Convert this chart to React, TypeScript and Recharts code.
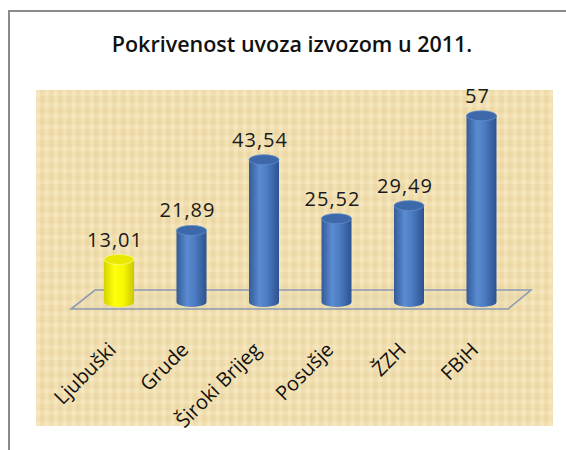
import React from "react"
import { BarChart, Bar, XAxis, YAxis, Cell, LabelList, usePlotArea } from "recharts"

const categories = ["Ljubuški", "Grude", "Široki Brijeg", "Posušje", "ŽZH", "FBiH"]
const coverage = [13.01, 21.89, 43.54, 25.52, 29.49, 57]
const valueLabels = ["13,01", "21,89", "43,54", "25,52", "29,49", "57"]
const highlighted = ["Ljubuški"]

const data = categories.map((name, i) => ({ name, value: coverage[i], label: valueLabels[i] }))

const W = 566
const H = 450

// floor under the cylinders, follows the plot area
function Floor() {
  const area = usePlotArea()
  if (!area) return null
  const { x, y, width, height } = area
  const b = y + height
  const pts = [
    [x - 12, b + 7],
    [x + width - 10, b + 7],
    [x + width + 13, b - 12],
    [x + 12, b - 12],
  ]
  return (
    <polygon
      points={pts.map((p) => p.join(",")).join(" ")}
      fill="rgba(230,215,175,0.35)"
      stroke="#8d9bb3"
      strokeWidth={1.6}
    />
  )
}

const Cylinder = (props: any) => {
  const { x, y, width, height, fill } = props
  const yellow = fill === "#ffff00"
  const rx = width / 2
  const ry = 5
  const body = `M${x},${y} L${x},${y + height} A${rx},${ry} 0 0 0 ${x + width},${y + height} L${x + width},${y} Z`
  return (
    <g>
      <path d={body} fill={yellow ? "url(#cylY)" : "url(#cylB)"} />
      <ellipse
        cx={x + rx}
        cy={y}
        rx={rx}
        ry={ry}
        fill={yellow ? "#e8e800" : "#3d69ab"}
        stroke={yellow ? "#f7f77a" : "#5f8bcb"}
        strokeWidth={0.8}
      />
    </g>
  )
}

const ValueLabel = (props: any) => {
  const { x, y, width, value } = props
  return (
    <text
      x={x + width / 2 - 4}
      y={y - 13}
      textAnchor="middle"
      fontFamily="'Open Sans', sans-serif"
      fontSize={20}
      letterSpacing={1}
      fill="#1a1a1a"
    >
      {value}
    </text>
  )
}

const CategoryTick = (props: any) => {
  const { x, y, payload } = props
  const ax = x - 2
  const ay = y + 41
  return (
    <text
      x={ax}
      y={ay}
      transform={`rotate(-45 ${ax} ${ay})`}
      textAnchor="end"
      fontFamily="'Open Sans', sans-serif"
      fontSize={20}
      fill="#111"
    >
      {payload.value}
    </text>
  )
}

export default function App() {
  return (
    <div style={{ position: "absolute", left: 0, top: 0, width: W, height: H, background: "#fff", overflow: "hidden" }}>
      {/* frame */}
      <div
        style={{
          position: "absolute",
          left: 8,
          top: 10,
          width: 620,
          height: 500,
          border: "2px solid #8a8a8a",
        }}
      />
      {/* parchment plot background */}
      <div
        style={{
          position: "absolute",
          left: 36,
          top: 90,
          width: 517,
          height: 336,
          backgroundColor: "#efdcaa",
          backgroundImage:
            "repeating-linear-gradient(90deg, rgba(255,246,220,0.25) 0px, rgba(255,246,220,0.25) 3px, rgba(205,175,115,0.08) 5px, rgba(255,246,220,0) 9px), repeating-linear-gradient(0deg, rgba(255,246,220,0.2) 0px, rgba(255,246,220,0.2) 3px, rgba(205,175,115,0.07) 6px, rgba(255,246,220,0) 11px)",
        }}
      />
      <div
        style={{
          position: "absolute",
          left: 0,
          top: 29,
          width: 584,
          textAlign: "center",
          fontFamily: "'Open Sans', sans-serif",
          fontSize: 21.5,
          fontWeight: 600,
          color: "#111",
          whiteSpace: "nowrap",
        }}
      >
        Pokrivenost uvoza izvozom u 2011.
      </div>
      <div style={{ position: "absolute", left: 0, top: 0 }}>
        <BarChart
          width={W}
          height={H}
          data={data}
          margin={{ top: 106, right: 48, bottom: 88, left: 83 }}
          barCategoryGap={0}
        >
          <defs>
            <linearGradient id="cylB" x1="0" y1="0" x2="1" y2="0">
              <stop offset="0" stopColor="#335b97" />
              <stop offset="0.35" stopColor="#5b8bd2" />
              <stop offset="0.6" stopColor="#4d7cc2" />
              <stop offset="1" stopColor="#2c5290" />
            </linearGradient>
            <linearGradient id="cylY" x1="0" y1="0" x2="1" y2="0">
              <stop offset="0" stopColor="#d4d400" />
              <stop offset="0.35" stopColor="#ffff10" />
              <stop offset="0.65" stopColor="#f8f800" />
              <stop offset="1" stopColor="#c8c800" />
            </linearGradient>
          </defs>
          <Floor />
          <XAxis
            dataKey="name"
            height={60}
            axisLine={false}
            tickLine={false}
            interval={0}
            tick={<CategoryTick />}
          />
          <YAxis hide domain={[0, 60]} />
          <Bar dataKey="value" barSize={30} shape={<Cylinder />} isAnimationActive={false}>
            {data.map((d) => (
              <Cell key={d.name} fill={highlighted.includes(d.name) ? "#ffff00" : "#4f81bd"} />
            ))}
            <LabelList dataKey="label" content={<ValueLabel />} />
          </Bar>
        </BarChart>
      </div>
    </div>
  )
}
